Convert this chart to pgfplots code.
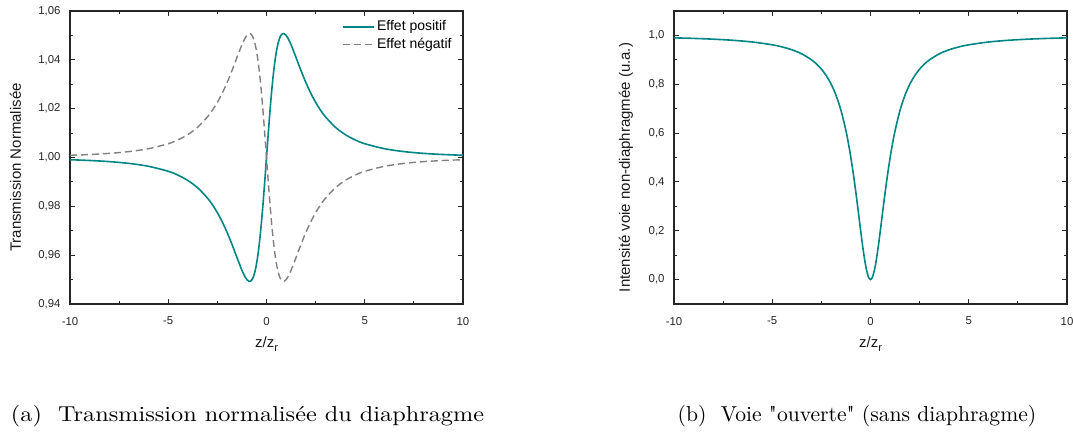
\documentclass[border=0pt]{standalone}
\usepackage{fontspec}
\usepackage{graphicx}
\newfontfamily\arial{Liberation Sans}
\usepackage{pgfplots}
\usepackage{pgfplotstable}
\pgfplotsset{compat=1.18}
\definecolor{tealc}{RGB}{0,133,133}
\definecolor{greyc}{RGB}{128,128,128}
\def\sq{\XeTeXglyph\XeTeXglyphindex "quotedbl"\relax}
\pgfplotstableread{
x pos neg open
-10 0.999092 1.000908 0.990099
-9 0.998780 1.001220 0.987805
-8 0.998314 1.001686 0.984615
-7 0.997586 1.002414 0.980000
-6 0.996396 1.003604 0.972973
-5 0.994344 1.005656 0.961538
-4.5 0.992760 1.007240 0.952941
-4 0.990588 1.009412 0.941176
-3.5 0.987569 1.012431 0.924528
-3 0.983333 1.016667 0.900000
-2.75 0.980609 1.019391 0.883212
-2.5 0.977388 1.022612 0.862069
-2.25 0.973608 1.026392 0.835052
-2 0.969231 1.030769 0.800000
-1.75 0.964289 1.035711 0.753846
-1.5 0.958974 1.041026 0.692308
-1.25 0.953817 1.046183 0.609756
-1.1 0.951250 1.048750 0.547511
-1 0.950000 1.050000 0.500000
-0.9 0.949313 1.050687 0.447514
-0.858 0.949243 1.050757 0.424029
-0.8 0.949399 1.050601 0.390244
-0.7 0.950495 1.049505 0.328859
-0.6 0.952867 1.047133 0.264706
-0.5 0.956757 1.043243 0.200000
-0.4 0.962356 1.037644 0.137931
-0.3 0.969722 1.030278 0.082569
-0.2 0.978727 1.021273 0.038462
-0.1 0.989011 1.010989 0.009901
-0.05 0.994460 1.005540 0.002494
0 1.000000 1.000000 0.000000
0.05 1.005540 0.994460 0.002494
0.1 1.010989 0.989011 0.009901
0.2 1.021273 0.978727 0.038462
0.3 1.030278 0.969722 0.082569
0.4 1.037644 0.962356 0.137931
0.5 1.043243 0.956757 0.200000
0.6 1.047133 0.952867 0.264706
0.7 1.049505 0.950495 0.328859
0.8 1.050601 0.949399 0.390244
0.858 1.050757 0.949243 0.424029
0.9 1.050687 0.949313 0.447514
1 1.050000 0.950000 0.500000
1.1 1.048750 0.951250 0.547511
1.25 1.046183 0.953817 0.609756
1.5 1.041026 0.958974 0.692308
1.75 1.035711 0.964289 0.753846
2 1.030769 0.969231 0.800000
2.25 1.026392 0.973608 0.835052
2.5 1.022612 0.977388 0.862069
2.75 1.019391 0.980609 0.883212
3 1.016667 0.983333 0.900000
3.5 1.012431 0.987569 0.924528
4 1.009412 0.990588 0.941176
4.5 1.007240 0.992760 0.952941
5 1.005656 0.994344 0.961538
6 1.003604 0.996396 0.972973
7 1.002414 0.997586 0.980000
8 1.001686 0.998314 0.984615
9 1.001220 0.998780 0.987805
10 1.000908 0.999092 0.990099
}\zdata
\pgfplotsset{zs/.style={
  scale only axis, width=196.5pt, height=146.5pt,
  xmin=-10, xmax=10,
  xtick={-10,-5,0,5,10}, xticklabels={-10,-5,0,5,10},
  minor x tick num=1, minor y tick num=1,
  tick align=inside, major tick length=2.5pt, minor tick length=1.5pt,
  axis line style={line width=0.6pt, black!85},
  every tick/.style={black!85, line width=0.5pt},
  tick label style={font=\arial\fontsize{5.7}{6}\selectfont, black!85},
  xticklabel style={yshift=-3pt},
  yticklabel style={xshift=-1.2pt},
  label style={font=\arial\fontsize{7.5}{9}\selectfont, black!90},
  xlabel={z/z\raisebox{-0.28em}{\fontsize{5.5}{6}\selectfont r}},
  xlabel style={at={(axis description cs:0.5,-0.1468)}, anchor=base},
  ylabel style={at={(axis description cs:-0.1387,0.466)}, anchor=center, rotate=0},
}}
\begin{document}
\begin{tikzpicture}
\useasboundingbox (0,0) rectangle (536.5pt,217.5pt);
\begin{axis}[zs, at={(35pt,65.5pt)}, anchor=south west,
  ymin=0.94, ymax=1.06,
  ytick={0.94,0.96,0.98,1.00,1.02,1.04,1.06},
  yticklabels={{0,94},{0,96},{0,98},{1,00},{1,02},{1,04},{1,06}},
  ylabel={Transmission Normalisée},
  legend style={at={(axis description cs:0.977,0.975)}, anchor=north east,
    draw=none, fill=none, inner sep=0pt, row sep=0pt,
    font=\arial\fontsize{7}{8}\selectfont, nodes={inner sep=1pt}},
  legend cell align=left,
  legend image code/.code={\draw[#1] (0pt,0pt) -- (15.5pt,0pt);},
]
\addplot[tealc, line width=0.8pt, smooth] table[x=x, y=pos] {\zdata};
\addlegendentry{Effet positif}
\addplot[greyc, line width=0.7pt, dash pattern=on 3.5pt off 2pt, smooth] table[x=x, y=neg] {\zdata};
\addlegendentry{Effet négatif}
\end{axis}
\begin{axis}[zs, at={(337pt,65.5pt)}, anchor=south west,
  ymin=-0.1, ymax=1.1,
  ytick={0,0.2,0.4,0.6,0.8,1.0},
  yticklabels={{0,0},{0,2},{0,4},{0,6},{0,8},{1,0}},
  ylabel={Intensité voie non-diaphragmée (u.a.)},
  ylabel style={at={(axis description cs:-0.1221,0.466)}, anchor=center},
]
\addplot[tealc, line width=0.8pt, smooth] table[x=x, y=open] {\zdata};
\end{axis}
\node[anchor=base, inner sep=0pt] at (123.75pt,7pt) {\fontsize{10.8}{12}\selectfont\scalebox{1.123}[1]{(a)\ \ Transmission normalisée du diaphragme}};
\node[anchor=base, inner sep=0pt] at (428.5pt,7pt) {\fontsize{10.8}{12}\selectfont(b)\ \ Voie \sq ouverte\sq{} (sans diaphragme)};
\end{tikzpicture}
\end{document}
